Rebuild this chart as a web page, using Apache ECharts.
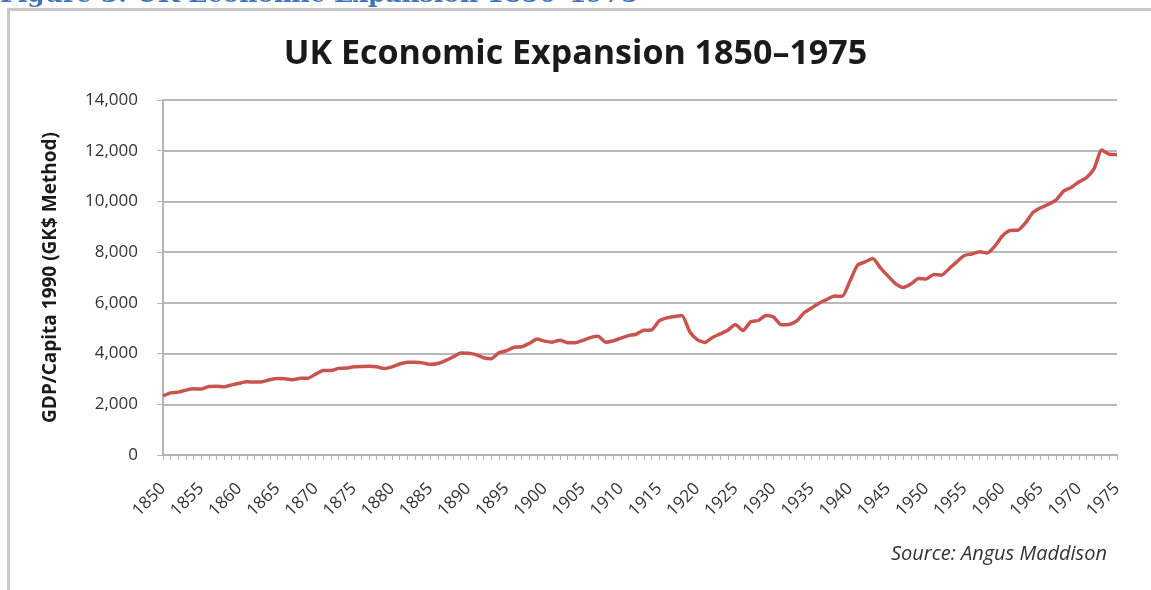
<!DOCTYPE html>
<html>
<head>
<meta charset="utf-8">
<script src="https://cdn.jsdelivr.net/npm/echarts@6/dist/echarts.min.js"></script>
<style>
html,body{margin:0;padding:0;background:#fff;}
#c{width:1151px;height:590px;}
</style>
</head>
<body>
<div id="c"></div>
<script>
const years = [];
for (let y = 1850; y <= 1975; y++) years.push(String(y));
const gdpPerCapita = [
  2330, 2451, 2480, 2559, 2609, 2600, 2705, 2714, 2693, 2765,
  2830, 2885, 2874, 2886, 2969, 3012, 3010, 2970, 3028, 3029,
  3190, 3332, 3331, 3417, 3430, 3477, 3490, 3498, 3477, 3411,
  3477, 3587, 3660, 3654, 3633, 3574, 3608, 3726, 3867, 4027,
  4009, 3958, 3837, 3795, 4035, 4111, 4247, 4267, 4401, 4570,
  4492, 4450, 4525, 4430, 4430, 4520, 4630, 4679, 4447, 4504,
  4611, 4709, 4762, 4921, 4927, 5288, 5408, 5459, 5501, 4870,
  4548, 4439, 4637, 4774, 4918, 5145, 4907, 5255, 5304, 5503,
  5441, 5138, 5148, 5277, 5608, 5799, 5998, 6138, 6266, 6262,
  6856, 7482, 7618, 7745, 7380, 7056, 6746, 6604, 6746, 6956,
  6939, 7123, 7091, 7346, 7619, 7868, 7929, 8017, 7966, 8240,
  8645, 8857, 8865, 9149, 9568, 9752, 9885, 10049, 10410, 10552,
  10767, 10941, 11294, 12025, 11859, 11847
];
const yTicks = [0, 2000, 4000, 6000, 8000, 10000, 12000, 14000];
const titleText = 'UK Economic Expansion 1850\u20131975';
const captionText = 'Figure 3: UK Economic Expansion 1850\u20131975';
const yAxisName = 'GDP/Capita 1990 (GK$ Method)';
const sourceText = 'Source: Angus Maddison';

const chart = echarts.init(document.getElementById('c'));
chart.setOption({
  backgroundColor: '#fff',
  animation: false,
  title: {
    text: titleText,
    left: 'center',
    top: 32,
    textStyle: {fontFamily: 'Open Sans', fontSize: 34, fontWeight: 'bold', color: '#1a1a1a'}
  },
  graphic: [
    {type: 'rect', shape: {x: 8.5, y: 9.5, width: 1200, height: 700}, style: {fill: 'none', stroke: '#c8c8c8', lineWidth: 3}},
    {type: 'text', left: 0, top: -17, style: {text: captionText, font: 'bold 25px "DejaVu Serif"', fill: '#3f76bb'}},
    {type: 'text', right: 44, top: 544, style: {text: sourceText, font: 'italic 20px "Open Sans"', fill: '#333'}}
  ],
  grid: {left: 163, right: 34, top: 100, bottom: 135},
  xAxis: {
    type: 'category',
    data: years,
    boundaryGap: false,
    axisLine: {lineStyle: {color: '#b4b4b4', width: 2}},
    axisTick: {show: true, interval: 0, length: 5, lineStyle: {color: '#b4b4b4'}},
    axisLabel: {interval: 4, rotate: 45, fontFamily: 'Open Sans', fontSize: 17, color: '#333', margin: 31}
  },
  yAxis: {
    type: 'value',
    min: 0, max: 14000, interval: 2000,
    name: yAxisName,
    nameLocation: 'middle',
    nameGap: 103,
    nameTextStyle: {fontFamily: 'Open Sans', fontSize: 19, fontWeight: 'bold', color: '#1a1a1a'},
    axisLine: {show: true, lineStyle: {color: '#b4b4b4', width: 2}},
    axisTick: {show: true, inside: false, length: 6, lineStyle: {color: '#b4b4b4'}},
    axisLabel: {
      fontFamily: 'Open Sans', fontSize: 17, color: '#333', margin: 25,
      formatter: v => v.toLocaleString('en-US')
    },
    splitLine: {lineStyle: {color: '#b9b9b9', width: 2}}
  },
  series: [{
    type: 'line',
    data: gdpPerCapita,
    symbol: 'none',
    smooth: 0.2,
    lineStyle: {color: '#c9544f', width: 3.5}
  }]
});
</script>
</body>
</html>
